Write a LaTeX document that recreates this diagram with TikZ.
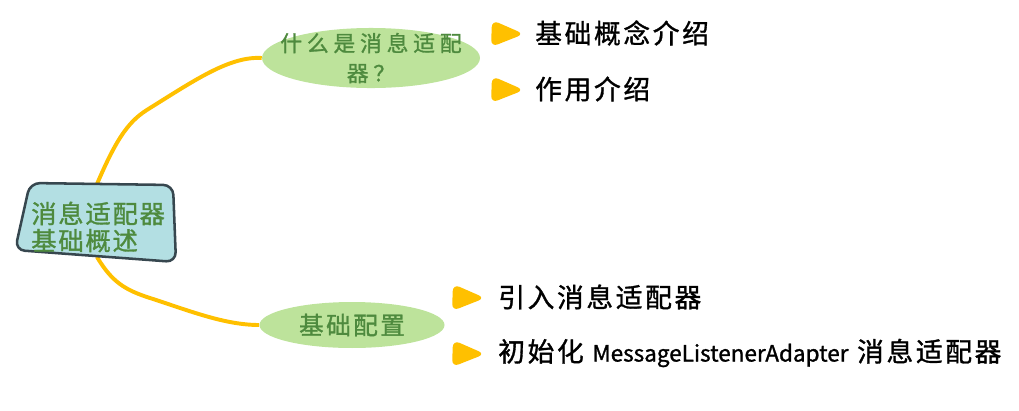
\documentclass[tikz,border=0pt]{standalone}
\usepackage{fontspec}
\setmainfont{Noto Sans CJK SC}
\newfontfamily\handfont[LetterSpace=10,FakeBold=1.2]{Noto Sans CJK SC}
\newfontfamily\plainfont[FakeBold=1.2]{Noto Sans CJK SC}
\usetikzlibrary{shapes.geometric,calc}
\definecolor{leafgreen}{HTML}{BDE39B}
\definecolor{textgreen}{HTML}{4E8A3E}
\definecolor{rootblue}{HTML}{B3DFE3}
\definecolor{rootline}{HTML}{37474F}
\definecolor{branchyellow}{HTML}{FFC000}

\begin{document}
\begin{tikzpicture}[x=0.025cm,y=-0.025cm,
        branch/.style={branchyellow,line width=2.8pt},
        topic/.style={ellipse,fill=leafgreen,inner sep=0pt},
        topictext/.style={text=textgreen,align=center,inner sep=0pt},
        leaf/.style={anchor=west,inner sep=0pt,font=\handfont\fontsize{19}{22}\selectfont},
        bulletfill/.style={fill=branchyellow,rounded corners=5pt}]
            \useasboundingbox (0,0) rectangle (1019,410);

            \node[topic,minimum width=155pt,minimum height=42.7pt] (what) at (371,58) {};
            \node[topictext,font=\handfont\addfontfeature{LetterSpace=22}\fontsize{15.5}{21.3}\selectfont] (whattext) at (what.center) {什么是消息适配\\器？};
            \node[topic,minimum width=131.6pt,minimum height=32.7pt] (setup) at (352,325) {};
            \node[topictext,font=\handfont\fontsize{17.5}{20}\selectfont] (setuptext) at (setup.center) {基础配置};

            \coordinate (rootTop) at (97,184);
            \coordinate (rootBot) at (97,257);
            \draw[branch] (rootTop) .. controls (118,135) and (130,120) .. (150,108) .. controls (195,80) and (230,56) .. (what.west);
            \draw[branch] (rootBot) .. controls (112,282) and (125,290) .. (150,298) .. controls (190,311) and (225,325) .. (setup.west);

            \filldraw[fill=rootblue,draw=rootline,line width=1.8pt,rounded corners=7pt] (30,183) -- (173,185) -- (176,262) -- (15,250) -- cycle;
            \node[anchor=west,inner sep=0pt,align=left,text=textgreen,font=\handfont\addfontfeature{LetterSpace=7}\fontsize{18}{19.2}\selectfont] (root) at (31,227) {消息适配器\\基础概述};

            \node[leaf] (l1) at (535,33) {基础概念介绍};
            \node[leaf] (l2) at (535,89) {作用介绍};
            \node[leaf] (l3) at (498,297) {引入消息适配器};
            \node[leaf] (l4) at (498,353) {初始化 {\plainfont\fontsize{16}{20}\selectfont MessageListenerAdapter} 消息适配器};

            \fill[bulletfill] ($(l1.west)+(-43,-13)$) -- ++(32,14) -- ++(-33,13) -- cycle;
            \fill[bulletfill] ($(l2.west)+(-43,-13)$) -- ++(32,14) -- ++(-33,13) -- cycle;
            \fill[bulletfill] ($(l3.west)+(-45,-13)$) -- ++(32,14) -- ++(-33,13) -- cycle;
            \fill[bulletfill] ($(l4.west)+(-45,-13)$) -- ++(32,14) -- ++(-33,13) -- cycle;
        \end{tikzpicture}
\end{document}
